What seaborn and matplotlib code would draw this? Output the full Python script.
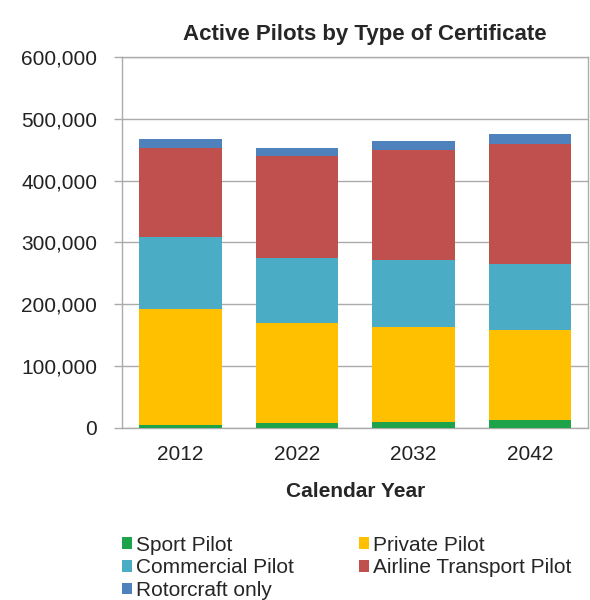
import pandas as pd
import matplotlib.pyplot as plt
import seaborn as sns
from matplotlib.patches import Patch
from matplotlib.ticker import FuncFormatter

# Values
years = ['2012', '2022', '2032', '2042']
sport = [4000, 7000, 9000, 12000]
private = [188000, 162000, 154000, 146000]
commercial = [117000, 106000, 108500, 107500]
airline = [143000, 164000, 177500, 193000]
rotorcraft = [16000, 14000, 15000, 17500]

series = ['Sport Pilot', 'Private Pilot', 'Commercial Pilot',
          'Airline Transport Pilot', 'Rotorcraft only']
colors = ['#1FA34A', '#FFC000', '#4BACC6', '#C0504D', '#4F81BD']

df = pd.DataFrame({'Year': years, 'Sport Pilot': sport, 'Private Pilot': private,
                   'Commercial Pilot': commercial, 'Airline Transport Pilot': airline,
                   'Rotorcraft only': rotorcraft})

# cumulative totals so each layer can be drawn on top of the previous one
cum = df[series].cumsum(axis=1)
cum['Year'] = df['Year']

sns.set_style('white')
plt.rcParams['font.family'] = ['Liberation Sans', 'DejaVu Sans']

fig = plt.figure(figsize=(5.9, 6.0), dpi=100)
ax = fig.add_axes([0.207, 0.287, 0.79, 0.618])

# draw tallest stack first, then the lower ones over it
for name, col in reversed(list(zip(series, colors))):
    sns.barplot(data=cum, x='Year', y=name, color=col, width=0.71,
                saturation=1, linewidth=0, edgecolor='none', ax=ax, zorder=3)

ax.set_ylim(0, 600000)
ax.set_yticks(range(0, 600001, 100000))
ax.yaxis.set_major_formatter(FuncFormatter(lambda v, p: f'{int(v):,}'))
ax.grid(axis='y', color='#ABABAB', linewidth=1, zorder=0)
ax.set_axisbelow(True)
for s in ax.spines.values():
    s.set_visible(True)
    s.set_color('#ABABAB')
    s.set_linewidth(1)

ax.tick_params(axis='y', which='major', left=True, length=6, width=1,
               color='#ABABAB', labelsize=15, labelcolor='#222222', pad=12)
ax.tick_params(axis='x', bottom=False, labelsize=15, labelcolor='#222222', pad=9)

ax.set_ylabel('')
ax.set_xlabel('Calendar Year', fontsize=15, fontweight='bold', labelpad=13)
ax.set_title('Active Pilots by Type of Certificate', fontsize=16,
             fontweight='bold', pad=12, x=0.52)

# legend: row-major order across two columns
order = [0, 2, 4, 1, 3]
handles = [Patch(facecolor=colors[i], edgecolor='none', label=series[i]) for i in order]
fig.legend(handles=handles, ncol=2, loc='upper left', bbox_to_anchor=(0.206, 0.107),
           frameon=False, fontsize=15, handlelength=0.5, handleheight=0.5,
           handletextpad=0.2, columnspacing=3.1, labelspacing=0.17,
           borderaxespad=0, borderpad=0)

fig.savefig('out.png', dpi=100)
